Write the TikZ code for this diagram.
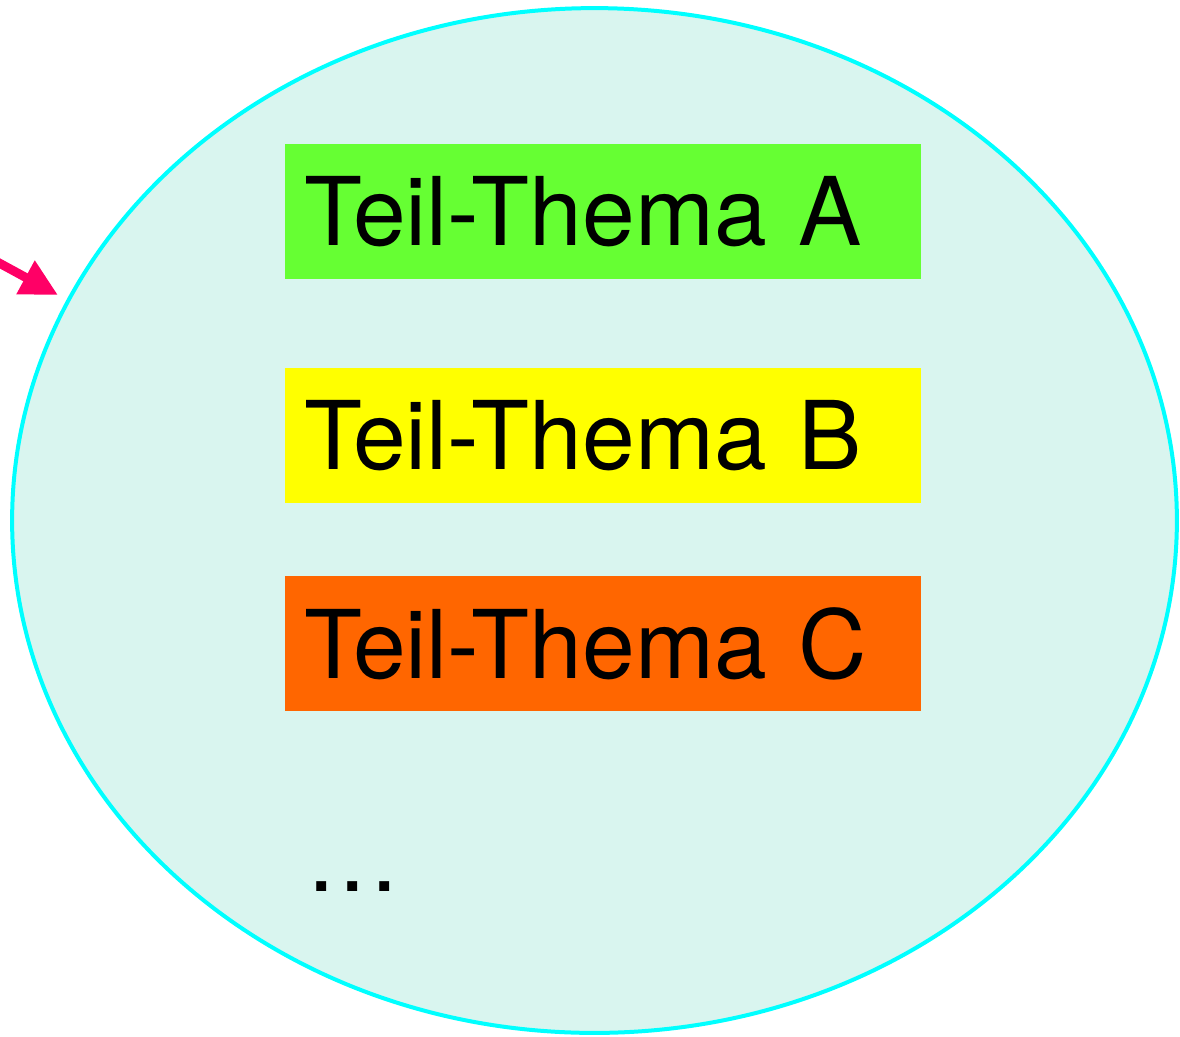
\documentclass[tikz,border=0pt]{standalone}
\usepackage{fontspec}
\setmainfont{TeX Gyre Heros}
\usetikzlibrary{arrows.meta, shapes.geometric}
\definecolor{flaeche}{RGB}{217,245,239}
\definecolor{rand}{RGB}{0,255,255}
\definecolor{gruen}{RGB}{102,255,51}
\definecolor{gelb}{RGB}{255,255,0}
\definecolor{orange}{RGB}{255,102,0}
\definecolor{zeiger}{RGB}{255,0,102}

\begin{document}
\begin{tikzpicture}[x=0.02cm, y=-0.02cm,
        T/.style={minimum width=12.72cm, minimum height=2.7cm, text width=11.96cm, align=left,
          inner xsep=0.38cm, inner ysep=0pt, font=\fontsize{54}{60}\selectfont},
        TA/.style={T, fill=gruen},
        TB/.style={T, fill=gelb},
        TC/.style={T, fill=orange},
        ptr/.style={-{Triangle[length=0.74cm, width=0.72cm]}, line width=0.18cm, draw=zeiger}
      ]
        \useasboundingbox (0,0) rectangle (1180,1036);
        % Thema als Ellipse
        \node[ellipse, draw=rand, fill=flaeche, line width=0.08cm, minimum width=23.3cm,
          minimum height=20.5cm, inner sep=0pt] (thema) at (594.5,520.5) {};
        % Teil-Themen
        \node[TA] (a) at (603,211.5) {Teil-Thema A};
        \node[TB] (b) at (603,435.5) {Teil-Thema B};
        \node[TC] (c) at (603,643.5) {Teil-Thema C};
        \node[anchor=base west, inner sep=0pt, font=\fontsize{54}{60}\selectfont] (mehr)
          at (308,891) {.\kern0.1cm.\kern0.1cm.};
        % Pfeil von links
        \coordinate (von) at (-10,258);
        \coordinate (hin) at (58,295);
        \draw[ptr] (von) -- (hin);
      \end{tikzpicture}
\end{document}
